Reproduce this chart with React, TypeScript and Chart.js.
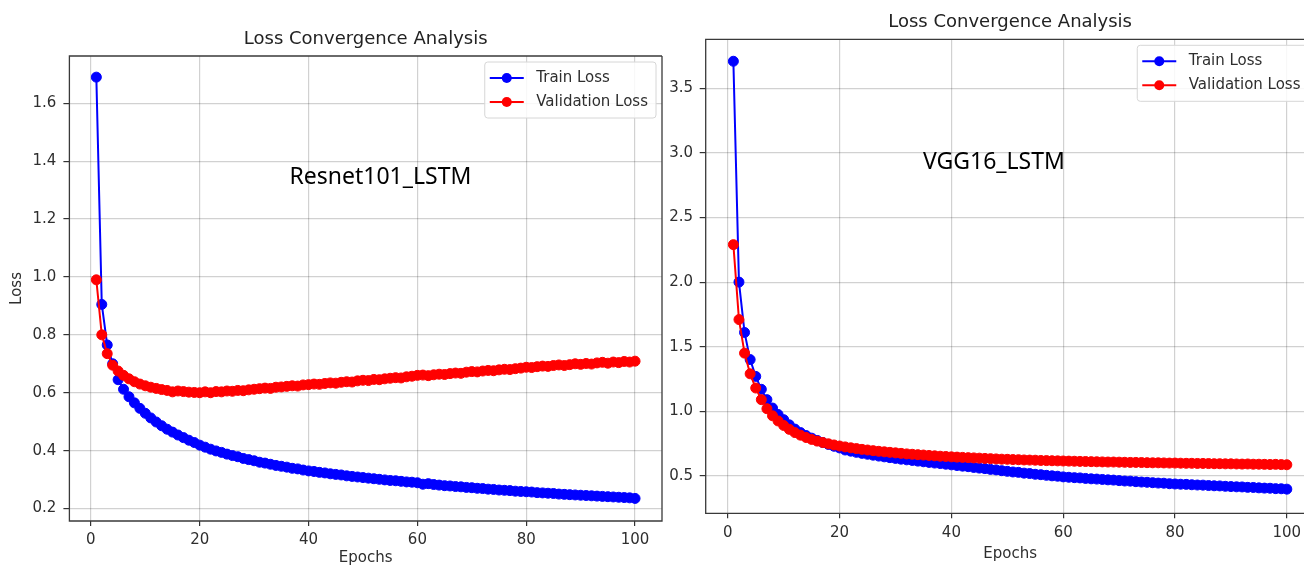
import React, { useEffect, useRef } from "react";
import { Chart, registerables } from "chart.js";

Chart.register(...registerables);

// ---------------- data ----------------
const epochs = Array.from({ length: 100 }, (_, i) => i + 1);
const xTickValues = [0, 20, 40, 60, 80, 100];
const resnetYTicks = [0.2, 0.4, 0.6, 0.8, 1.0, 1.2, 1.4, 1.6];
const vggYTicks = [0.5, 1.0, 1.5, 2.0, 2.5, 3.0, 3.5];

const chartTitle = "Loss Convergence Analysis";
const xAxisTitle = "Epochs";
const yAxisTitle = "Loss";
const seriesNames = ["Train Loss", "Validation Loss"];
const seriesColors = ["#0000ff", "#ff0000"];
const modelNames = ["Resnet101_LSTM", "VGG16_LSTM"];

const resnetTrainLoss = [
  1.69, 0.905, 0.765, 0.7, 0.645, 0.612, 0.586, 0.565, 0.546, 0.529,
  0.513, 0.499, 0.486, 0.474, 0.464, 0.454, 0.445, 0.436, 0.428, 0.419,
  0.412, 0.405, 0.399, 0.394, 0.388, 0.383, 0.379, 0.373, 0.369, 0.365,
  0.36, 0.357, 0.353, 0.349, 0.346, 0.343, 0.339, 0.337, 0.333, 0.33,
  0.328, 0.325, 0.323, 0.32, 0.318, 0.316, 0.313, 0.311, 0.309, 0.307,
  0.305, 0.303, 0.301, 0.299, 0.297, 0.296, 0.294, 0.292, 0.291, 0.289,
  0.284, 0.286, 0.283, 0.281, 0.279, 0.278, 0.276, 0.275, 0.273, 0.272,
  0.27, 0.269, 0.267, 0.266, 0.264, 0.263, 0.262, 0.26, 0.259, 0.258,
  0.257, 0.255, 0.254, 0.253, 0.252, 0.25, 0.249, 0.248, 0.247, 0.246,
  0.245, 0.244, 0.243, 0.242, 0.241, 0.24, 0.239, 0.238, 0.237, 0.235,
];

const resnetValLoss = [
  0.99, 0.8, 0.735, 0.695, 0.675, 0.66, 0.648, 0.638, 0.63, 0.624,
  0.619, 0.615, 0.611, 0.608, 0.603, 0.606, 0.604, 0.602, 0.601, 0.6,
  0.603, 0.6, 0.604, 0.603, 0.606, 0.605, 0.608, 0.607, 0.61, 0.612,
  0.614, 0.616, 0.615, 0.619, 0.62, 0.622, 0.624, 0.623, 0.627, 0.628,
  0.63, 0.629, 0.632, 0.634, 0.633, 0.636, 0.638, 0.637, 0.641, 0.643,
  0.642, 0.646, 0.645, 0.648, 0.65, 0.652, 0.651, 0.655, 0.657, 0.66,
  0.661, 0.659, 0.662, 0.664, 0.663, 0.666, 0.668, 0.667, 0.671, 0.673,
  0.672, 0.675, 0.677, 0.676, 0.679, 0.681, 0.68, 0.683, 0.685, 0.688,
  0.687, 0.69, 0.692, 0.691, 0.694, 0.696, 0.694, 0.697, 0.7, 0.698,
  0.701, 0.699, 0.703, 0.705, 0.702, 0.706, 0.704, 0.708, 0.706, 0.709,
];

const vggTrainLoss = [
  3.71, 2.0, 1.61, 1.4, 1.27, 1.17, 1.09, 1.025, 0.975, 0.935,
  0.895, 0.862, 0.835, 0.812, 0.792, 0.774, 0.758, 0.743, 0.729, 0.716,
  0.7, 0.691, 0.682, 0.674, 0.667, 0.66, 0.653, 0.647, 0.641, 0.635,
  0.629, 0.624, 0.619, 0.614, 0.609, 0.604, 0.599, 0.595, 0.59, 0.585,
  0.58, 0.575, 0.571, 0.565, 0.56, 0.556, 0.55, 0.546, 0.54, 0.535,
  0.53, 0.527, 0.521, 0.518, 0.512, 0.509, 0.504, 0.5, 0.497, 0.492,
  0.489, 0.486, 0.484, 0.48, 0.477, 0.475, 0.472, 0.469, 0.467, 0.463,
  0.46, 0.459, 0.455, 0.452, 0.45, 0.447, 0.444, 0.443, 0.439, 0.437,
  0.435, 0.434, 0.431, 0.429, 0.428, 0.425, 0.423, 0.422, 0.419, 0.417,
  0.415, 0.414, 0.411, 0.41, 0.407, 0.405, 0.404, 0.401, 0.4, 0.397,
];

const vggValLoss = [
  2.29, 1.71, 1.45, 1.29, 1.18, 1.09, 1.02, 0.965, 0.925, 0.89,
  0.86, 0.835, 0.815, 0.797, 0.782, 0.769, 0.758, 0.748, 0.739, 0.731,
  0.724, 0.717, 0.711, 0.705, 0.7, 0.695, 0.69, 0.686, 0.682, 0.678,
  0.674, 0.67, 0.667, 0.664, 0.661, 0.658, 0.655, 0.652, 0.65, 0.647,
  0.645, 0.643, 0.641, 0.639, 0.637, 0.635, 0.633, 0.631, 0.629, 0.628,
  0.626, 0.625, 0.623, 0.622, 0.621, 0.619, 0.618, 0.617, 0.616, 0.615,
  0.614, 0.613, 0.612, 0.611, 0.61, 0.609, 0.608, 0.607, 0.607, 0.606,
  0.605, 0.604, 0.604, 0.603, 0.602, 0.601, 0.601, 0.6, 0.599, 0.599,
  0.598, 0.597, 0.597, 0.596, 0.596, 0.595, 0.594, 0.594, 0.593, 0.593,
  0.592, 0.591, 0.592, 0.59, 0.59, 0.589, 0.588, 0.589, 0.587, 0.586,
];

// ---------------- drawing ----------------
const FONT = '"DejaVu Sans", sans-serif';
const TEXT = "#2e2e2e";

const overlayPlugin = {
  id: "overlay",
  afterDraw(chart: any, _args: any, opts: any) {
    const { ctx, chartArea: a, scales } = chart;
    ctx.save();
    // spines (left, bottom, top, right)
    ctx.strokeStyle = "#3a3a3a";
    ctx.lineWidth = 1.3;
    ctx.beginPath();
    ctx.moveTo(a.right, a.top);
    ctx.lineTo(a.left, a.top);
    ctx.lineTo(a.left, a.bottom);
    ctx.lineTo(a.right, a.bottom);
    if (opts.rightSpine) ctx.lineTo(a.right, a.top);
    ctx.stroke();
    // title
    ctx.fillStyle = "#222222";
    ctx.font = `18px ${FONT}`;
    ctx.textAlign = "center";
    ctx.textBaseline = "middle";
    ctx.fillText(opts.title, (a.left + a.right) / 2, a.top - 16.5);
    // model annotation
    ctx.fillStyle = "#000000";
    ctx.font = `23px "Noto Sans", sans-serif`;
    ctx.fillText(
      opts.note,
      scales.x.getPixelForValue(opts.noteX),
      scales.y.getPixelForValue(opts.noteY)
    );
    // legend
    ctx.font = `15px ${FONT}`;
    const textW = Math.max(...seriesNames.map((s) => ctx.measureText(s).width));
    const boxW = 5 + 34 + 12.5 + textW + 8;
    const boxH = 56;
    const bx = a.right - 6 - boxW;
    const by = a.top + 6;
    ctx.fillStyle = "rgba(255,255,255,0.85)";
    ctx.strokeStyle = "#d6d6d6";
    ctx.lineWidth = 1;
    ctx.beginPath();
    (ctx as any).roundRect(bx, by, boxW, boxH, 3);
    ctx.fill();
    ctx.stroke();
    seriesNames.forEach((name, i) => {
      const ry = by + 16 + i * 24;
      ctx.strokeStyle = seriesColors[i];
      ctx.lineWidth = 2;
      ctx.beginPath();
      ctx.moveTo(bx + 5, ry);
      ctx.lineTo(bx + 39, ry);
      ctx.stroke();
      ctx.fillStyle = seriesColors[i];
      ctx.beginPath();
      ctx.arc(bx + 22, ry, 5, 0, Math.PI * 2);
      ctx.fill();
      ctx.fillStyle = TEXT;
      ctx.textAlign = "left";
      ctx.textBaseline = "middle";
      ctx.fillText(name, bx + 51.5, ry);
    });
    ctx.restore();
  },
};

type Spec = {
  train: number[];
  val: number[];
  yTicks: number[];
  yMin: number;
  yMax: number;
  note: string;
  noteX: number;
  noteY: number;
  padTop: number;
  padRight: number;
  yAxisWidth: number;
  xAxisHeight: number;
  xTickPad: number;
  yTickPad: number;
  xTitlePadBottom: number;
  showYTitle: boolean;
  rightSpine: boolean;
};

function buildConfig(s: Spec): any {
  const mk = (vals: number[], idx: number, order: number) => ({
    label: seriesNames[idx],
    data: epochs.map((e, i) => ({ x: e, y: vals[i] })),
    borderColor: seriesColors[idx],
    backgroundColor: seriesColors[idx],
    pointBackgroundColor: seriesColors[idx],
    pointBorderColor: seriesColors[idx],
    pointRadius: 5,
    pointHoverRadius: 5,
    pointBorderWidth: 1,
    borderWidth: 2,
    tension: 0,
    order,
  });
  return {
    type: "line",
    data: { datasets: [mk(s.val, 1, 0), mk(s.train, 0, 1)] },
    options: {
      animation: false,
      responsive: false,
      maintainAspectRatio: false,
      layout: { padding: { left: 0, right: s.padRight, top: s.padTop, bottom: 0 } },
      plugins: {
        legend: { display: false },
        tooltip: { enabled: false },
        title: { display: false },
        overlay: {
          title: chartTitle,
          note: s.note,
          noteX: s.noteX,
          noteY: s.noteY,
          rightSpine: s.rightSpine,
        },
      },
      scales: {
        x: {
          type: "linear",
          min: -3.95,
          max: 104.95,
          afterBuildTicks: (ax: any) => {
            ax.ticks = xTickValues.map((v) => ({ value: v }));
          },
          afterFit: (sc: any) => {
            sc.height = s.xAxisHeight;
          },
          grid: { color: "rgba(0,0,0,0.18)", lineWidth: 1.2, tickColor: "#333", tickLength: 5 },
          border: { display: false },
          ticks: {
            color: TEXT,
            font: { family: FONT, size: 15 },
            padding: s.xTickPad,
            maxRotation: 0,
            callback: (v: any) => String(v),
          },
          title: {
            display: true,
            text: xAxisTitle,
            color: TEXT,
            font: { family: FONT, size: 15 },
            padding: { top: 0, bottom: s.xTitlePadBottom },
          },
        },
        y: {
          type: "linear",
          min: s.yMin,
          max: s.yMax,
          afterBuildTicks: (ax: any) => {
            ax.ticks = s.yTicks.map((v) => ({ value: v }));
          },
          afterFit: (sc: any) => {
            sc.width = s.yAxisWidth;
          },
          grid: { color: "rgba(0,0,0,0.18)", lineWidth: 1.2, tickColor: "#333", tickLength: 6 },
          border: { display: false },
          ticks: {
            color: TEXT,
            font: { family: FONT, size: 15 },
            padding: s.yTickPad,
            callback: (v: any) => Number(v).toFixed(1),
          },
          title: {
            display: s.showYTitle,
            text: yAxisTitle,
            color: TEXT,
            font: { family: FONT, size: 15 },
            padding: { top: 8, bottom: 0 },
          },
        },
      },
    },
    plugins: [overlayPlugin],
  };
}

function LossChart({ spec, left, width }: { spec: Spec; left: number; width: number }) {
  const ref = useRef<HTMLCanvasElement | null>(null);
  useEffect(() => {
    if (!ref.current) return;
    const chart = new Chart(ref.current, buildConfig(spec));
    return () => chart.destroy();
  }, []);
  return (
    <canvas
      ref={ref}
      width={width}
      height={567}
      style={{ position: "absolute", left, top: 0, width, height: 567, display: "block" }}
    />
  );
}

const resnetSpec: Spec = {
  train: resnetTrainLoss,
  val: resnetValLoss,
  yTicks: resnetYTicks,
  yMin: 0.157,
  yMax: 1.763,
  note: modelNames[0],
  noteX: 53.2,
  noteY: 1.345,
  padTop: 56,
  padRight: 1.5,
  yAxisWidth: 69.4,
  xAxisHeight: 46,
  xTickPad: 5,
  yTickPad: 7,
  xTitlePadBottom: 0,
  showYTitle: true,
  rightSpine: true,
};

const vggSpec: Spec = {
  train: vggTrainLoss,
  val: vggValLoss,
  yTicks: vggYTicks,
  yMin: 0.21,
  yMax: 3.88,
  note: modelNames[1],
  noteX: 47.6,
  noteY: 2.93,
  padTop: 39.3,
  padRight: 13.5,
  yAxisWidth: 37.7,
  xAxisHeight: 53.7,
  xTickPad: 6,
  yTickPad: 6.7,
  xTitlePadBottom: 4,
  showYTitle: false,
  rightSpine: false,
};

export default function App() {
  return (
    <div
      style={{
        position: "fixed",
        left: 0,
        top: 0,
        width: 1304,
        height: 567,
        overflow: "hidden",
        background: "#ffffff",
      }}
    >
      <LossChart spec={resnetSpec} left={0} width={668} />
      <LossChart spec={vggSpec} left={668} width={660} />
    </div>
  );
}
